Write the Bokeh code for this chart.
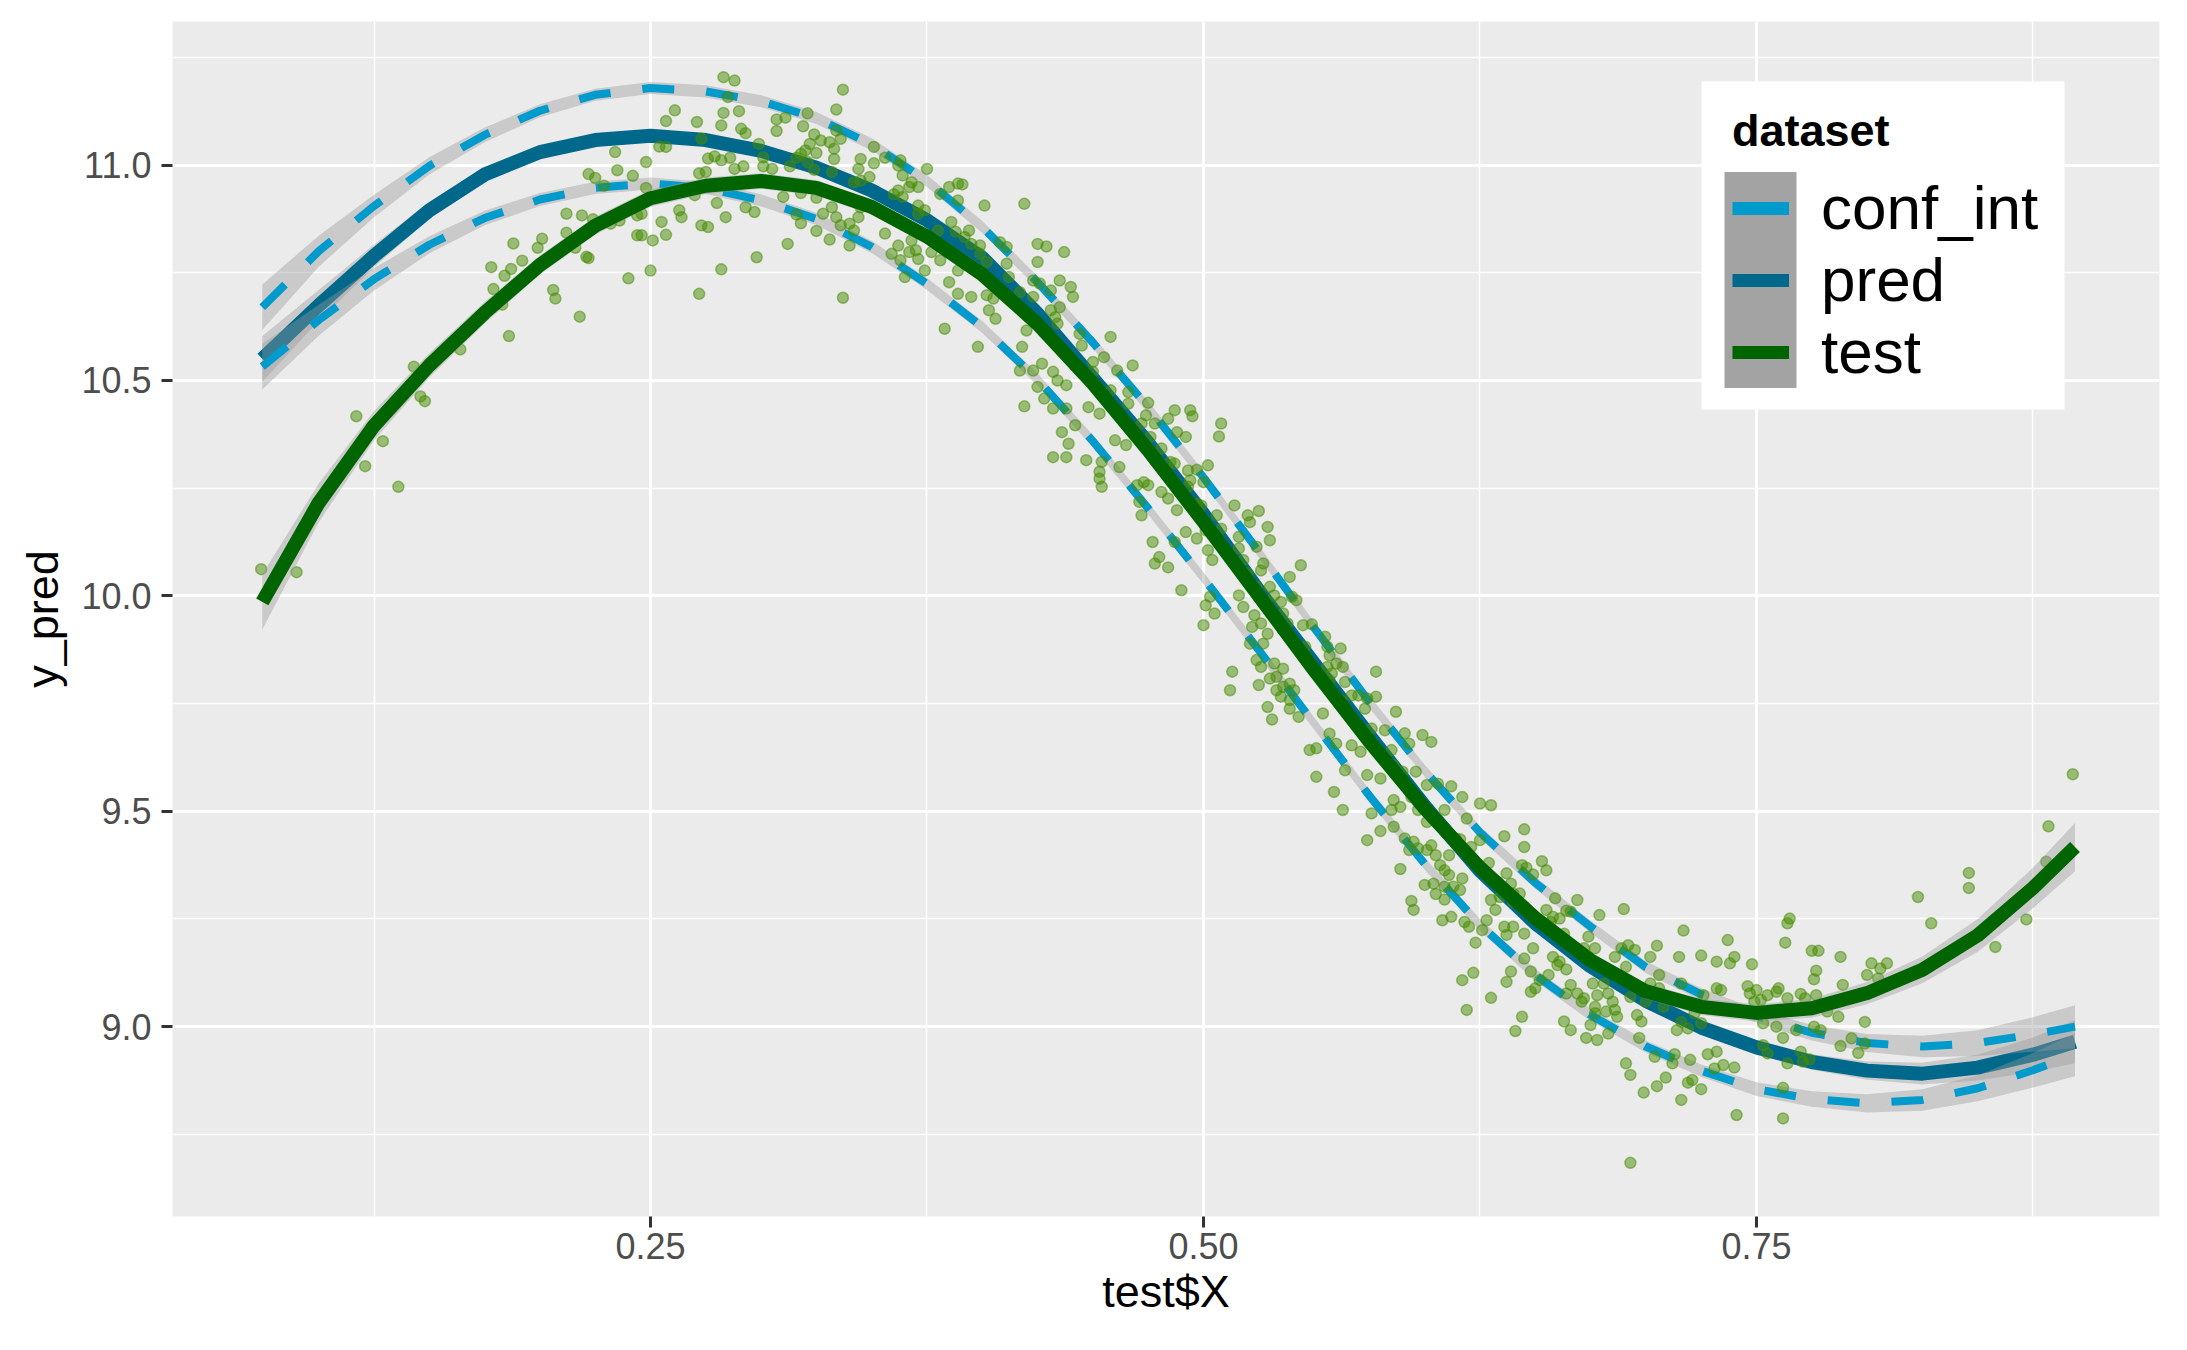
from bokeh.plotting import figure
from bokeh.models import Range1d, FixedTicker, Legend, LegendItem, BoxAnnotation
from bokeh.embed import file_html
from bokeh.resources import INLINE

FONT = "Liberation Sans"
NAN = float("nan")

# ---------------- data ----------------
x_grid = [0.0745, 0.100, 0.125, 0.150, 0.175, 0.200, 0.225, 0.250, 0.275, 0.300,
          0.325, 0.350, 0.375, 0.400, 0.425, 0.450, 0.475, 0.500, 0.525, 0.550,
          0.575, 0.600, 0.625, 0.650, 0.675, 0.700, 0.725, 0.750, 0.775, 0.800,
          0.825, 0.850, 0.875, 0.894]

test_fit = [9.986, 10.216, 10.395, 10.535, 10.657, 10.768, 10.859, 10.923, 10.952, 10.963,
            10.947, 10.903, 10.834, 10.746, 10.631, 10.493, 10.338, 10.172, 10.000, 9.828,
            9.662, 9.507, 9.369, 9.252, 9.154, 9.082, 9.046, 9.032, 9.043, 9.078,
            9.132, 9.212, 9.322, 9.417]
test_se = [0.064, 0.045, 0.034, 0.028, 0.025, 0.022, 0.021, 0.020, 0.019, 0.018,
           0.018, 0.018, 0.018, 0.018, 0.018, 0.018, 0.018, 0.018, 0.018, 0.018,
           0.018, 0.018, 0.018, 0.018, 0.018, 0.018, 0.019, 0.020, 0.022, 0.026,
           0.031, 0.038, 0.047, 0.056]

pred_fit = [10.550, 10.674, 10.789, 10.895, 10.978, 11.030, 11.058, 11.068, 11.058, 11.033,
            10.994, 10.941, 10.872, 10.785, 10.655, 10.505, 10.355, 10.190, 10.012, 9.843,
            9.676, 9.512, 9.362, 9.240, 9.140, 9.060, 8.998, 8.952, 8.918, 8.898,
            8.891, 8.905, 8.935, 8.965]
conf_upper = [10.670, 10.800, 10.905, 10.998, 11.070, 11.126, 11.163, 11.179, 11.171, 11.148,
              11.109, 11.048, 10.963, 10.856, 10.728, 10.588, 10.438, 10.275, 10.103, 9.926,
              9.754, 9.594, 9.451, 9.334, 9.232, 9.138, 9.075, 9.025, 8.986, 8.962,
              8.954, 8.962, 8.982, 9.000]
conf_lower = [10.532, 10.640, 10.735, 10.815, 10.877, 10.920, 10.947, 10.957, 10.947, 10.918,
              10.875, 10.810, 10.724, 10.624, 10.502, 10.359, 10.203, 10.041, 9.874, 9.704,
              9.536, 9.378, 9.236, 9.120, 9.027, 8.954, 8.898, 8.855, 8.832, 8.822,
              8.830, 8.857, 8.899, 8.935]
band_se = [0.053, 0.036, 0.026, 0.020, 0.017, 0.015, 0.014, 0.014, 0.014, 0.014,
           0.014, 0.014, 0.014, 0.014, 0.014, 0.014, 0.014, 0.014, 0.014, 0.014,
           0.014, 0.014, 0.014, 0.014, 0.014, 0.014, 0.014, 0.016, 0.018, 0.021,
           0.025, 0.030, 0.040, 0.050]

# test points (x, y), grouped by region of the chart
pts_left = [
    [0.074, 10.062], [0.090, 10.055], [0.117, 10.417], [0.129, 10.359], [0.121, 10.301], [0.136, 10.253],
    [0.143, 10.532], [0.146, 10.463], [0.148, 10.452], [0.164, 10.572], [0.186, 10.603], [0.178, 10.763],
    [0.179, 10.712], [0.183, 10.676], [0.184, 10.743], [0.188, 10.818], [0.187, 10.759], [0.192, 10.778],
    [0.199, 10.808], [0.201, 10.829], [0.206, 10.710], [0.207, 10.690], [0.218, 10.648], [0.212, 10.887],
    [0.219, 10.883], [0.212, 10.843], [0.216, 10.808], [0.221, 10.787], [0.222, 10.784], [0.222, 10.979],
    [0.225, 10.970], [0.229, 10.952], [0.234, 11.030], [0.235, 10.988], [0.232, 10.864], [0.236, 10.871],
    [0.240, 10.737], [0.244, 10.837], [0.244, 10.883], [0.242, 10.975], [0.224, 10.874],
]
pts_peak = [
    [0.283, 11.204], [0.288, 11.196], [0.285, 11.158], [0.337, 11.175], [0.261, 11.127], [0.257, 11.102],
    [0.271, 11.100], [0.283, 11.121], [0.282, 11.092], [0.290, 11.125], [0.291, 11.084], [0.293, 11.074],
    [0.307, 11.106], [0.311, 11.110], [0.307, 11.079], [0.319, 11.090], [0.321, 11.120], [0.334, 11.129],
    [0.324, 11.071], [0.334, 11.080], [0.336, 11.061], [0.327, 11.057], [0.331, 11.053], [0.333, 11.038],
    [0.322, 11.049], [0.318, 11.026], [0.320, 11.034], [0.325, 11.028], [0.333, 11.014], [0.321, 11.007],
    [0.316, 11.017], [0.273, 11.061], [0.299, 11.049], [0.254, 11.043], [0.257, 11.042], [0.248, 11.007],
    [0.276, 11.015], [0.279, 11.020], [0.282, 11.011], [0.286, 11.017], [0.292, 10.997], [0.301, 11.018],
    [0.301, 10.997], [0.305, 10.991], [0.313, 10.997], [0.324, 10.989], [0.332, 10.984], [0.272, 10.981],
    [0.275, 10.984], [0.288, 10.991], [0.344, 10.991], [0.345, 11.014], [0.351, 11.042], [0.351, 11.004],
    [0.356, 11.017], [0.363, 11.011], [0.375, 10.991], [0.362, 10.999], [0.349, 10.972], [0.345, 10.964],
    [0.342, 10.960], [0.364, 10.976], [0.368, 10.960], [0.371, 10.949], [0.367, 10.949], [0.248, 10.947],
    [0.246, 10.887], [0.270, 10.930], [0.280, 10.912], [0.263, 10.895], [0.264, 10.879], [0.255, 10.868],
    [0.284, 10.879], [0.293, 10.902], [0.297, 10.891], [0.273, 10.860], [0.276, 10.856], [0.251, 10.825],
    [0.257, 10.838], [0.246, 10.837], [0.298, 10.786], [0.282, 10.758], [0.250, 10.755], [0.272, 10.701],
    [0.312, 10.817], [0.337, 10.692], [0.310, 10.926], [0.318, 10.935], [0.325, 10.924], [0.316, 10.885],
    [0.318, 10.865], [0.325, 10.847], [0.331, 10.827], [0.328, 10.887], [0.332, 10.902], [0.334, 10.879],
    [0.336, 10.860], [0.340, 10.864], [0.344, 10.879], [0.342, 10.848], [0.340, 10.813], [0.345, 10.902],
    [0.356, 10.841], [0.362, 10.813], [0.359, 10.794], [0.363, 10.779], [0.365, 10.740], [0.367, 10.798],
    [0.368, 10.825], [0.362, 10.941], [0.360, 10.932], [0.364, 10.926], [0.371, 10.906], [0.374, 10.895],
    [0.371, 10.887], [0.370, 10.802], [0.371, 10.782], [0.374, 10.755], [0.377, 10.798], [0.381, 10.779],
    [0.380, 10.848], [0.381, 10.933], [0.385, 10.949], [0.389, 10.957], [0.391, 10.955], [0.389, 10.918],
    [0.386, 10.868], [0.388, 10.845], [0.394, 10.848], [0.395, 10.817], [0.392, 10.833], [0.399, 10.813],
    [0.402, 10.775], [0.401, 10.906], [0.399, 10.794], [0.396, 10.763], [0.389, 10.755], [0.385, 10.728],
    [0.389, 10.701], [0.395, 10.694], [0.402, 10.698], [0.383, 10.620], [0.398, 10.578], [0.406, 10.643],
    [0.408, 10.821], [0.411, 10.810], [0.411, 10.771], [0.412, 10.740], [0.417, 10.705], [0.423, 10.732],
    [0.423, 10.694], [0.425, 10.817], [0.429, 10.811], [0.437, 10.798], [0.419, 10.910], [0.425, 10.775],
    [0.426, 10.725], [0.431, 10.709], [0.435, 10.732], [0.440, 10.717], [0.441, 10.694], [0.435, 10.670],
    [0.431, 10.663], [0.433, 10.647], [0.434, 10.632], [0.420, 10.616], [0.444, 10.608], [0.418, 10.578],
    [0.417, 10.523], [0.423, 10.523], [0.427, 10.539], [0.432, 10.520], [0.434, 10.500], [0.438, 10.489],
    [0.425, 10.485], [0.428, 10.458], [0.432, 10.435], [0.438, 10.435], [0.442, 10.396], [0.436, 10.380],
    [0.439, 10.353], [0.432, 10.322], [0.438, 10.322], [0.419, 10.440], [0.403, 10.663], [0.405, 10.690],
]
pts_mid = [
    [0.458, 10.601], [0.445, 10.581], [0.450, 10.543], [0.455, 10.554], [0.468, 10.535], [0.461, 10.523],
    [0.450, 10.520], [0.458, 10.477], [0.466, 10.473], [0.466, 10.446], [0.475, 10.448], [0.448, 10.438],
    [0.453, 10.423], [0.447, 10.315], [0.454, 10.311], [0.453, 10.288], [0.453, 10.272], [0.454, 10.253],
    [0.462, 10.299], [0.460, 10.361], [0.465, 10.350], [0.474, 10.419], [0.472, 10.400], [0.478, 10.400],
    [0.476, 10.369], [0.487, 10.431], [0.494, 10.431], [0.495, 10.417], [0.484, 10.411], [0.488, 10.380],
    [0.492, 10.369], [0.508, 10.400], [0.507, 10.370], [0.481, 10.342], [0.487, 10.307], [0.485, 10.311],
    [0.493, 10.291], [0.497, 10.293], [0.502, 10.303], [0.500, 10.264], [0.494, 10.268], [0.487, 10.264],
    [0.475, 10.257], [0.470, 10.257], [0.473, 10.264], [0.471, 10.218], [0.472, 10.187], [0.481, 10.241],
    [0.484, 10.226], [0.488, 10.199], [0.497, 10.214], [0.499, 10.210], [0.493, 10.253], [0.514, 10.210],
    [0.506, 10.187], [0.520, 10.187], [0.525, 10.197], [0.521, 10.171], [0.529, 10.160], [0.530, 10.129],
    [0.524, 10.114], [0.516, 10.137], [0.516, 10.110], [0.508, 10.156], [0.501, 10.152], [0.497, 10.133],
    [0.492, 10.148], [0.487, 10.125], [0.477, 10.125], [0.480, 10.090], [0.478, 10.075], [0.484, 10.066],
    [0.502, 10.106], [0.504, 10.083], [0.518, 10.083], [0.526, 10.059], [0.520, 10.052], [0.527, 10.075],
    [0.544, 10.071], [0.539, 10.044], [0.524, 10.021], [0.530, 10.021], [0.532, 10.001], [0.535, 9.986],
    [0.542, 9.990], [0.540, 9.998], [0.516, 10.001], [0.503, 9.998], [0.501, 9.978], [0.505, 9.959],
    [0.500, 9.932], [0.490, 10.013], [0.518, 9.974], [0.522, 9.928], [0.526, 9.936], [0.523, 9.955],
    [0.536, 9.959], [0.538, 9.936], [0.545, 9.932], [0.549, 9.934], [0.527, 9.889], [0.521, 9.889],
    [0.529, 9.912], [0.546, 9.882], [0.555, 9.905], [0.556, 9.882], [0.562, 9.878], [0.546, 9.862],
    [0.557, 9.862], [0.524, 9.851], [0.526, 9.835], [0.532, 9.843], [0.530, 9.808], [0.533, 9.812],
    [0.536, 9.831], [0.513, 9.824], [0.512, 9.781], [0.525, 9.793], [0.536, 9.789], [0.539, 9.796],
    [0.541, 9.781], [0.533, 9.781], [0.535, 9.766], [0.539, 9.758], [0.529, 9.742], [0.531, 9.713],
    [0.539, 9.738], [0.543, 9.719], [0.556, 9.835], [0.557, 9.804], [0.560, 9.843], [0.563, 9.835],
    [0.564, 9.800], [0.578, 9.824], [0.558, 9.820], [0.562, 9.758], [0.567, 9.769], [0.570, 9.769],
    [0.574, 9.762], [0.578, 9.766], [0.573, 9.738], [0.587, 9.731], [0.554, 9.727], [0.557, 9.680],
    [0.560, 9.657], [0.548, 9.642], [0.551, 9.646], [0.551, 9.580], [0.559, 9.545], [0.563, 9.503],
    [0.564, 9.595], [0.567, 9.653], [0.571, 9.638], [0.574, 9.584], [0.580, 9.576], [0.576, 9.692],
    [0.582, 9.688], [0.585, 9.642], [0.586, 9.607], [0.591, 9.681], [0.593, 9.657], [0.599, 9.677],
    [0.603, 9.661], [0.590, 9.592], [0.596, 9.592], [0.601, 9.561], [0.606, 9.564], [0.612, 9.558],
    [0.617, 9.533], [0.625, 9.518], [0.630, 9.514], [0.586, 9.526], [0.585, 9.503], [0.589, 9.510],
    [0.576, 9.495], [0.594, 9.533], [0.597, 9.503], [0.609, 9.503], [0.619, 9.483], [0.601, 9.475],
    [0.586, 9.464],
    [0.574, 9.433], [0.580, 9.454], [0.589, 9.366], [0.593, 9.410], [0.595, 9.429], [0.591, 9.437],
    [0.597, 9.414], [0.601, 9.410], [0.603, 9.421], [0.605, 9.398], [0.607, 9.375], [0.609, 9.363],
    [0.611, 9.352], [0.611, 9.398], [0.600, 9.329], [0.604, 9.332], [0.605, 9.308], [0.609, 9.325],
    [0.609, 9.295], [0.594, 9.292], [0.595, 9.271], [0.608, 9.247],
]
pts_trough = [
    [0.636, 9.442], [0.645, 9.458], [0.645, 9.417], [0.614, 9.437], [0.616, 9.435], [0.625, 9.433],
    [0.621, 9.417], [0.624, 9.375], [0.629, 9.380], [0.644, 9.375], [0.646, 9.369], [0.653, 9.384],
    [0.655, 9.363], [0.649, 9.353], [0.637, 9.356], [0.639, 9.332], [0.643, 9.309], [0.640, 9.309],
    [0.617, 9.344], [0.613, 9.325], [0.616, 9.317], [0.631, 9.340], [0.633, 9.336], [0.630, 9.294],
    [0.634, 9.301], [0.659, 9.298], [0.669, 9.294], [0.655, 9.271], [0.658, 9.255], [0.664, 9.269],
    [0.666, 9.267], [0.661, 9.251], [0.657, 9.243], [0.643, 9.286], [0.640, 9.290], [0.632, 9.271],
    [0.628, 9.247], [0.612, 9.255], [0.618, 9.243], [0.620, 9.232], [0.626, 9.224], [0.636, 9.232],
    [0.640, 9.232], [0.637, 9.213], [0.645, 9.216], [0.623, 9.195], [0.649, 9.182], [0.645, 9.158],
    [0.663, 9.216], [0.664, 9.195], [0.672, 9.182], [0.674, 9.209], [0.677, 9.182], [0.679, 9.259],
    [0.690, 9.273], [0.658, 9.162], [0.661, 9.151], [0.660, 9.143], [0.664, 9.133], [0.648, 9.128],
    [0.639, 9.128], [0.637, 9.104], [0.622, 9.125], [0.617, 9.108], [0.630, 9.067], [0.619, 9.039],
    [0.644, 9.023], [0.641, 8.990], [0.656, 9.120], [0.666, 9.097], [0.652, 9.108], [0.650, 9.089],
    [0.648, 9.081], [0.664, 9.077], [0.669, 9.077], [0.672, 9.066], [0.671, 9.058], [0.676, 9.100],
    [0.678, 9.073], [0.683, 9.077], [0.681, 9.100], [0.686, 9.162], [0.691, 9.139], [0.695, 9.178],
    [0.702, 9.162], [0.705, 9.188], [0.692, 9.189], [0.689, 9.182], [0.685, 9.058], [0.686, 9.039],
    [0.687, 9.023], [0.682, 9.035], [0.677, 9.046], [0.675, 9.004], [0.677, 9.031], [0.663, 9.012],
    [0.666, 8.992], [0.673, 8.974], [0.678, 8.969], [0.683, 8.984], [0.696, 9.027], [0.698, 9.012],
    [0.697, 8.974], [0.693, 9.069], [0.700, 9.058], [0.702, 9.100], [0.706, 9.120], [0.706, 9.089],
    [0.708, 9.046], [0.716, 9.100], [0.715, 9.162], [0.717, 9.223], [0.725, 9.165], [0.732, 9.151],
    [0.737, 9.201], [0.740, 9.162], [0.738, 9.147], [0.748, 9.145], [0.732, 9.089], [0.734, 9.085],
    [0.726, 9.073], [0.722, 9.031], [0.725, 9.008], [0.716, 9.011], [0.719, 8.996], [0.714, 8.992],
    [0.691, 8.915], [0.693, 8.888], [0.699, 8.847], [0.705, 8.862], [0.709, 8.882], [0.704, 8.930],
    [0.713, 8.936], [0.712, 8.915], [0.720, 8.923], [0.719, 8.870], [0.721, 8.876], [0.725, 8.855],
    [0.716, 8.830], [0.728, 8.936], [0.732, 8.942], [0.731, 8.903], [0.735, 8.911], [0.740, 8.905],
    [0.741, 8.795], [0.746, 9.094], [0.747, 9.077], [0.750, 9.085], [0.752, 9.062], [0.755, 9.073],
    [0.749, 9.058], [0.759, 9.081], [0.760, 9.089], [0.764, 9.066], [0.765, 9.251], [0.764, 9.240],
    [0.763, 9.195], [0.775, 9.176], [0.778, 9.176], [0.788, 9.162], [0.777, 9.130], [0.776, 9.110],
    [0.789, 9.097], [0.770, 9.076], [0.772, 9.066], [0.777, 9.073], [0.753, 9.008], [0.759, 9.000],
    [0.753, 8.957], [0.755, 8.938], [0.762, 8.974], [0.768, 8.992], [0.776, 9.000], [0.779, 8.992],
    [0.782, 9.035], [0.787, 9.023], [0.788, 8.955], [0.793, 8.973], [0.799, 9.011], [0.799, 8.961],
    [0.796, 8.939], [0.770, 8.942], [0.771, 8.919], [0.764, 8.915], [0.774, 8.924], [0.762, 8.858],
    [0.762, 8.787], [0.802, 9.147], [0.800, 9.120], [0.806, 9.135], [0.809, 9.147], [0.805, 9.112],
    [0.693, 8.684],
]
pts_right = [
    [0.893, 9.586], [0.882, 9.465], [0.881, 9.383], [0.846, 9.357], [0.846, 9.322], [0.823, 9.301],
    [0.829, 9.240], [0.872, 9.249], [0.858, 9.185],
]

x_ticks = [0.25, 0.50, 0.75]
x_tick_labels = ["0.25", "0.50", "0.75"]
x_minor = [0.125, 0.375, 0.625, 0.875]
y_ticks = [9.0, 9.5, 10.0, 10.5, 11.0]
y_tick_labels = ["9.0", "9.5", "10.0", "10.5", "11.0"]
y_minor = [8.75, 9.25, 9.75, 10.25, 10.75, 11.25]

series_labels = ["conf_int", "pred", "test"]
series_colors = ["#009ACD", "#00688B", "#006400"]
point_color = "#458B00"
ribbon_color = "#999999"

# ---------------- figure ----------------
p = figure(frame_width=1987, frame_height=1195,
           x_range=Range1d(0.0339, 0.9322), y_range=Range1d(8.5594, 11.3332),
           output_backend="svg", toolbar_location=None,
           min_border_left=172, min_border_right=20, min_border_top=21, min_border_bottom=126)
p.background_fill_color = "#EBEBEB"
p.border_fill_color = "white"
p.outline_line_color = None

p.xaxis.ticker = FixedTicker(ticks=x_ticks, minor_ticks=x_minor)
p.yaxis.ticker = FixedTicker(ticks=y_ticks, minor_ticks=y_minor)
p.xaxis.major_label_overrides = dict(zip(x_ticks, x_tick_labels))
p.yaxis.major_label_overrides = dict(zip(y_ticks, y_tick_labels))
for g in (p.xgrid[0], p.ygrid[0]):
    g.grid_line_color = "white"
    g.grid_line_width = 3
    g.minor_grid_line_color = "white"
    g.minor_grid_line_width = 1.5

for ax in (p.xaxis[0], p.yaxis[0]):
    ax.axis_line_color = None
    ax.major_tick_line_color = "#333333"
    ax.major_tick_line_width = 3
    ax.major_tick_out = 11
    ax.major_tick_in = 0
    ax.minor_tick_line_color = None
    ax.major_label_text_font = FONT
    ax.major_label_text_font_size = "36px"
    ax.major_label_text_color = "#4D4D4D"
    ax.axis_label_text_font = FONT
    ax.axis_label_text_font_size = "45px"
    ax.axis_label_text_color = "black"
    ax.axis_label_text_font_style = "normal"
p.xaxis.axis_label = "test$X"
p.yaxis.axis_label = "y_pred"
p.xaxis.major_label_standoff = 5
p.yaxis.major_label_standoff = 10
p.xaxis.axis_label_standoff = 4
p.yaxis.axis_label_standoff = 10

def band(ys, se, sign):
    return [y + sign * s for y, s in zip(ys, se)]

# pred layer
p.varea(x=x_grid, y1=band(pred_fit, band_se, -1), y2=band(pred_fit, band_se, 1),
        fill_color=ribbon_color, fill_alpha=0.4)
p.line(x_grid, pred_fit, line_color=series_colors[1], line_width=14, line_join="round")

# conf_int layer
for ys in (conf_upper, conf_lower):
    p.varea(x=x_grid, y1=band(ys, band_se, -1), y2=band(ys, band_se, 1),
            fill_color=ribbon_color, fill_alpha=0.4)
    p.line(x_grid, ys, line_color=series_colors[0], line_width=8, line_dash="32 32",
           line_join="round")

# test points
all_pts = pts_left + pts_peak + pts_mid + pts_trough + pts_right
p.scatter([q[0] for q in all_pts], [q[1] for q in all_pts], size=11,
          fill_color=point_color, fill_alpha=0.5,
          line_color=point_color, line_alpha=0.5, line_width=1.5)

# test smooth
p.varea(x=x_grid, y1=band(test_fit, test_se, -1), y2=band(test_fit, test_se, 1),
        fill_color=ribbon_color, fill_alpha=0.4)
p.line(x_grid, test_fit, line_color=series_colors[2], line_width=14, line_join="round")

# ---------------- legend ----------------
legend_bg = BoxAnnotation(left=1529, right=1892, bottom=807, top=1135,
                          left_units="screen", right_units="screen",
                          bottom_units="screen", top_units="screen",
                          fill_color="white", fill_alpha=1.0, line_color=None)
key_bg = BoxAnnotation(left=1552, right=1624, bottom=828.5, top=1044.5,
                       left_units="screen", right_units="screen",
                       bottom_units="screen", top_units="screen",
                       fill_color="#A3A3A3", fill_alpha=1.0, line_color=None)
p.add_layout(legend_bg)
p.add_layout(key_bg)

items = []
for lab, col in zip(series_labels, series_colors):
    r = p.line(x=[NAN], y=[NAN], line_color=col, line_width=13)
    items.append(LegendItem(label=lab, renderers=[r]))

legend = Legend(items=items, location=(1560, 828.5), title="dataset",
                background_fill_alpha=0.0, border_line_color=None,
                padding=0, margin=0, spacing=0,
                glyph_width=57, glyph_height=72, label_height=72, label_standoff=32,
                label_text_font=FONT, label_text_font_size="62px", label_text_color="black",
                title_text_font=FONT, title_text_font_size="45px", title_text_font_style="bold",
                title_text_color="black", title_standoff=15)
p.add_layout(legend)

open("out.html", "w").write(file_html(p, INLINE))
